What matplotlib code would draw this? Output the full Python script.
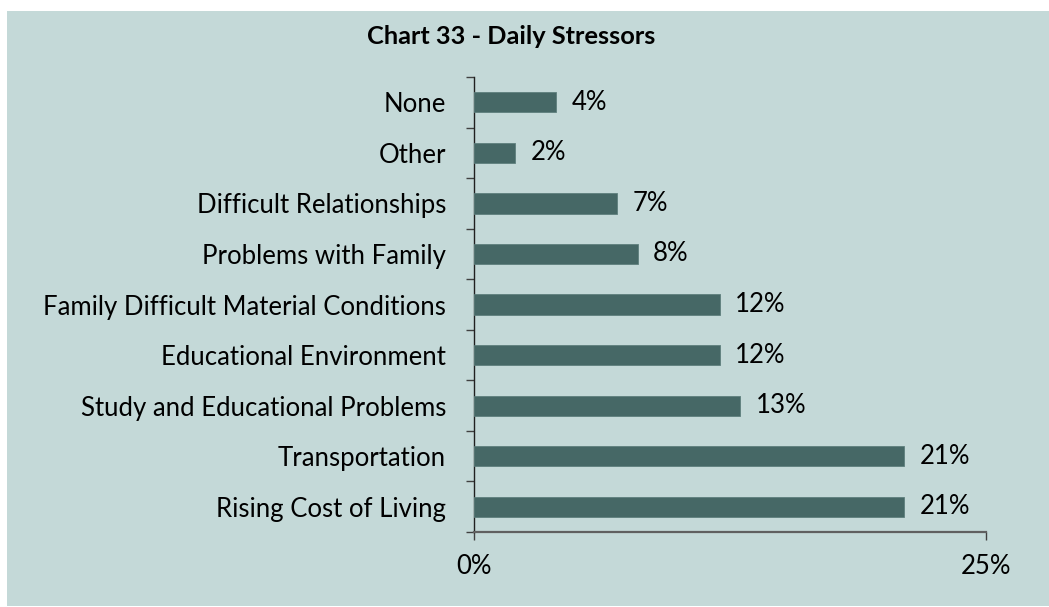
import matplotlib
matplotlib.use("Agg")
import matplotlib.pyplot as plt
from matplotlib.patches import Rectangle
from matplotlib.ticker import FixedLocator

categories = ["Rising Cost of Living", "Transportation", "Study and Educational Problems",
              "Educational Environment", "Family Difficult Material Conditions",
              "Problems with Family", "Difficult Relationships", "Other", "None"]
values = [21, 21, 13, 12, 12, 8, 7, 2, 4]
x_ticks = [0, 25]
x_tick_labels = ["0%", "25%"]
title = "Chart 33 - Daily Stressors"

BG = "#c4d9d8"
BAR = "#466866"
FONT = "Lato"
FS = 18.5

W, H = 1049, 607
fig = plt.figure(figsize=(W / 100, H / 100), dpi=100)
fig.patch.set_facecolor("white")
fig.patches.append(Rectangle((7 / W, 1 / H), 1 - 7 / W, 1 - 12 / H, transform=fig.transFigure,
                             facecolor=BG, edgecolor="none", zorder=-10))

ax_l, ax_r, ax_t, ax_b = 474, 986, 77, 532
ax = fig.add_axes([ax_l / W, 1 - ax_b / H, (ax_r - ax_l) / W, (ax_b - ax_t) / H])
ax.set_facecolor("none")
ax.set_zorder(5)

y = list(range(len(categories)))
ax.barh(y, values, height=0.4, color=BAR, edgecolor="#5e7f7d", linewidth=0.6, zorder=3)
ax.set_xlim(0, 25)
ax.set_ylim(-0.5, len(categories) - 0.5)

for yi, v in zip(y, values):
    ax.text(v + 0.75, yi, f"{v}%", va="center", ha="left", fontsize=FS, family=FONT, color="black")

ax.set_yticks(y)
ax.set_yticklabels(categories, family=FONT, fontsize=FS)
ax.yaxis.set_minor_locator(FixedLocator([i - 0.5 for i in range(len(categories) + 1)]))
ax.tick_params(axis="y", which="major", length=0, pad=20)
ax.tick_params(axis="y", which="minor", length=6, width=1, color="#404040")

ax.set_xticks(x_ticks)
ax.set_xticklabels(x_tick_labels, family=FONT, fontsize=FS)
ax.tick_params(axis="x", length=6, width=1, color="#404040", pad=10)

for s in ["top", "right"]:
    ax.spines[s].set_visible(False)
ax.spines["left"].set_color("#202020")
ax.spines["left"].set_linewidth(1)
ax.spines["bottom"].set_color("#606060")
ax.spines["bottom"].set_linewidth(1.6)

fig.text(511 / W, 1 - 36 / H, title, ha="center", va="center", fontsize=18.3,
         fontweight="bold", family=FONT)

fig.savefig("out.png", dpi=100, facecolor=fig.get_facecolor())
